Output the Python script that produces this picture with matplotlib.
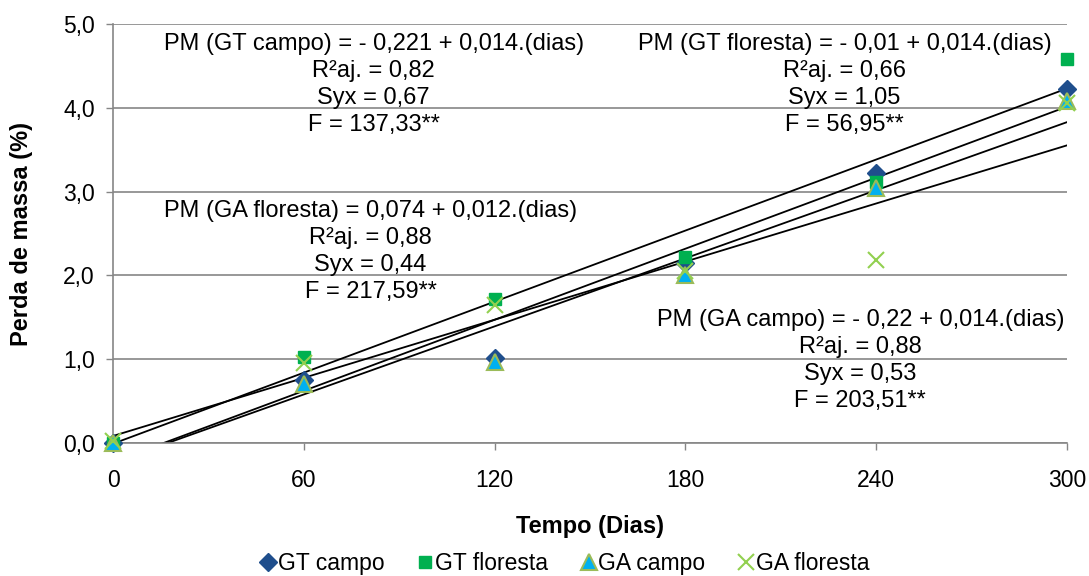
import matplotlib.pyplot as plt
import numpy as np

plt.rcParams['font.family'] = ['Liberation Sans', 'DejaVu Sans']

dias = [0, 60, 120, 180, 240, 300]
gt_campo = [0.0, 0.75, 1.02, 2.15, 3.22, 4.23]
gt_floresta = [0.0, 1.03, 1.72, 2.22, 3.11, 4.59]
ga_campo = [0.0, 0.70, 0.97, 2.00, 3.04, 4.08]
ga_floresta = [0.02, 0.95, 1.65, 2.05, 2.18, 4.06]

yticks = [0, 1, 2, 3, 4, 5]
ytick_labels = ['0,0', '1,0', '2,0', '3,0', '4,0', '5,0']

eq_gt_campo = 'PM (GT campo) = - 0,221 + 0,014.(dias)\nR²aj. = 0,82\nSyx = 0,67\nF = 137,33**'
eq_ga_floresta = 'PM (GA floresta) = 0,074 + 0,012.(dias)\nR²aj. = 0,88\nSyx = 0,44\nF = 217,59**'
eq_gt_floresta = 'PM (GT floresta) = - 0,01 + 0,014.(dias)\nR²aj. = 0,66\nSyx = 1,05\nF = 56,95**'
eq_ga_campo = 'PM (GA campo) = - 0,22 + 0,014.(dias)\nR²aj. = 0,88\nSyx = 0,53\nF = 203,51**'

grid_col = '#868686'

fig = plt.figure(figsize=(10.89, 5.76), dpi=100)
ax = fig.add_axes([0.1038, 0.231, 0.876, 0.727])

# trend lines (linear fit of each series)
x_fit = np.array([0, 300])
for serie in [gt_campo, gt_floresta, ga_campo, ga_floresta]:
    b, a = np.polyfit(dias, serie, 1)
    ax.plot(x_fit, a + b * x_fit, color='black', lw=1.3, zorder=2)

ax.plot(dias, gt_campo, ls='none', marker='D', ms=9, color='#1F4E8C',
        label='GT campo', zorder=3, clip_on=False)
ax.plot(dias, gt_floresta, ls='none', marker='s', ms=9, color='#00B050',
        label='GT floresta', zorder=4, clip_on=False)
ax.plot(dias, ga_campo, ls='none', marker='^', ms=11, mfc='#00B0F0', mec='#9BBB59',
        mew=1.5, label='GA campo', zorder=5, clip_on=False)
ax.plot(dias, ga_floresta, ls='none', marker='x', ms=11, mew=1.5, color='#92D050',
        label='GA floresta', zorder=6, clip_on=False)

ax.set_xlim(0, 300)
ax.set_ylim(0, 5)
ax.set_xticks(dias)
ax.set_yticks(yticks)
ax.set_yticklabels(ytick_labels)
ax.tick_params(axis='both', labelsize=16.5, color=grid_col, length=5, width=1)
ax.tick_params(axis='x', pad=14)
ax.tick_params(axis='y', pad=8)
ax.grid(axis='y', color=grid_col, lw=1.2)
ax.set_axisbelow(True)
for s in ['top', 'right']:
    ax.spines[s].set_visible(False)
for s in ['left', 'bottom']:
    ax.spines[s].set_color(grid_col)
    ax.spines[s].set_linewidth(1.2)

ax.set_xlabel('Tempo (Dias)', fontsize=17, fontweight='bold', labelpad=16)
ax.set_ylabel('Perda de massa (%)', fontsize=17, fontweight='bold', labelpad=22)

txt = dict(fontsize=17, ha='center', va='top', linespacing=1.3, multialignment='center')
ax.text(82, 4.90, eq_gt_campo, **txt)
ax.text(81, 2.90, eq_ga_floresta, **txt)
ax.text(230, 4.90, eq_gt_floresta, **txt)
ax.text(235, 1.60, eq_ga_campo, **txt)

fig.legend(loc='center', bbox_to_anchor=(0.517, 0.022), ncol=4, frameon=False,
           fontsize=16.5, handletextpad=-0.1, columnspacing=1.3, handlelength=1.0)

fig.savefig('out.png', dpi=100)
